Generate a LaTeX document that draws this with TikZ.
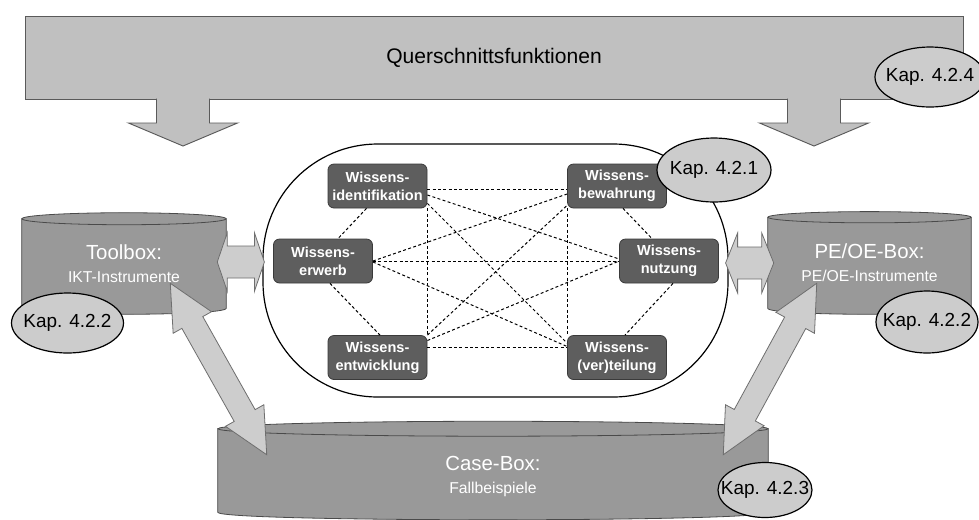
\documentclass[tikz,border=0pt]{standalone}
\usepackage{fontspec}
\setmainfont{Liberation Sans}
\usetikzlibrary{calc,shapes.geometric}
\pgfdeclarelayer{bg}
\pgfsetlayers{bg,main}

\definecolor{barfill}{HTML}{C0C0C0}
\definecolor{barline}{HTML}{5A5A5A}
\definecolor{cylfill}{HTML}{999999}
\definecolor{cylline}{HTML}{4A4A4A}
\definecolor{arrfill}{HTML}{CDCDCD}
\definecolor{arrline}{HTML}{6E6E6E}
\definecolor{kapfill}{HTML}{CCCCCC}
\definecolor{boxfill}{HTML}{5E5E5E}
\definecolor{boxline}{HTML}{3A3A3A}

\newcommand\boxtitlefont{\fontsize{15.3}{17.25}\selectfont}

% fat double-headed block arrow between two coordinates
% #1 start, #2 end, #3 head length, #4 head half width, #5 shaft half width
\newcommand\blockdbl[5]{%
  \coordinate (bdA) at ($(#1)!#3!(#2)$);
  \coordinate (bdB) at ($(#2)!#3!(#1)$);
  \draw[blockarrow] (#1) -- ($(bdA)!#4!90:(#2)$) -- ($(bdA)!#5!90:(#2)$)
    -- ($(bdB)!#5!-90:(#1)$) -- ($(bdB)!#4!-90:(#1)$) -- (#2)
    -- ($(bdB)!#4!90:(#1)$) -- ($(bdB)!#5!90:(#1)$)
    -- ($(bdA)!#5!-90:(#2)$) -- ($(bdA)!#4!-90:(#2)$) -- cycle;}

% downward block arrow hanging from the top bar, #1 = tip
\newcommand\droparrow[1]{%
  \fill[barfill] ($(#1)+(-26.5,-48)$) -- ($(#1)+(-26.5,-23)$) -- ($(#1)+(-54.5,-23)$)
    -- (#1) -- ($(#1)+(54.5,-23)$) -- ($(#1)+(26.5,-23)$) -- ($(#1)+(26.5,-48)$) -- cycle;
  \draw[barline, line width=0.7pt, line join=miter] ($(#1)+(-26.5,-47.5)$) -- ($(#1)+(-26.5,-23)$)
    -- ($(#1)+(-54.5,-23)$) -- (#1) -- ($(#1)+(54.5,-23)$) -- ($(#1)+(26.5,-23)$)
    -- ($(#1)+(26.5,-47.5)$);}

% cylinder drawn behind a node: #1 node, #2 half width, #3 lid half height,
% #4 lift of the bottom above the node's south side, #5 bulge of the bottom
\newcommand\drawcyl[5]{%
  \begin{pgfonlayer}{bg}
    \draw[cylbody] (#1.north west) -- ($(#1.south west)+(0,-#4)$)
      .. controls ($(#1.south west)+(0,-#4+#5)$) and ($(#1.south east)+(0,-#4+#5)$)
      .. ($(#1.south east)+(0,-#4)$) -- (#1.north east) -- cycle;
    \draw[cylbody] (#1.north) ellipse [x radius=#2, y radius=#3];
  \end{pgfonlayer}}

\begin{document}
\begin{tikzpicture}[x=0.75pt,y=-0.75pt,
  phase/.style={rectangle, rounded corners=4.5pt, fill=boxfill, draw=boxline,
    line width=0.6pt, text=white, align=center, inner sep=0pt,
    font=\bfseries\fontsize{10.9}{13.5}\selectfont,
    minimum width=74.25pt, minimum height=33pt},
  kap/.style={ellipse, fill=kapfill, draw=black, line width=0.9pt, inner sep=0pt,
    font=\fontsize{14.2}{16}\selectfont},
  blockarrow/.style={fill=arrfill, draw=arrline, line width=0.6pt, line join=miter},
  link/.style={draw=black, line width=0.75pt, dash pattern=on 2.2pt off 1.8pt},
  cylbody/.style={fill=cylfill, draw=cylline, line width=0.6pt},
  cyltext/.style={rectangle, inner sep=0pt, text=white, align=center,
    font=\fontsize{11.8}{17.25}\selectfont}]

\begin{pgfonlayer}{bg}
  \fill[white] (0,0) rectangle (979,519);
\end{pgfonlayer}
\useasboundingbox (0,0) rectangle (979,519);

% cross-sectional functions bar with its two drop arrows
\node[rectangle, fill=barfill, draw=barline, line width=0.7pt,
  minimum width=703.5pt, minimum height=62.25pt, inner sep=0pt,
  font=\fontsize{15.8}{18}\selectfont] (bar) at (494,57.5) {Querschnittsfunktionen};
\coordinate (qL) at (183,146);
\coordinate (qR) at (814,146);
\droparrow{qL}
\droparrow{qR}

% the three cylinder boxes (text nodes, bodies drawn behind)
\node[cyltext, minimum width=153pt, minimum height=66.75pt] (toolbox) at (124,263.5)
  {{\boxtitlefont Toolbox:}\\IKT-Instrumente};
\drawcyl{toolbox}{76.5pt}{4.5pt}{0}{8}
\node[cyltext, minimum width=152.25pt, minimum height=67.9pt] (peoe) at (869.5,262.75)
  {{\boxtitlefont PE/OE-Box:}\\PE/OE-Instrumente};
\drawcyl{peoe}{76.1pt}{4.2pt}{0}{8}
\node[cyltext, minimum width=412.5pt, minimum height=71.25pt] (casebox) at (493,476.5)
  {{\boxtitlefont Case-Box:}\\Fallbeispiele};
\drawcyl{casebox}{206.25pt}{5.6pt}{12}{10}

% knowledge management cycle
\node[rectangle, draw=black, line width=0.9pt, fill=white, rounded corners=86pt,
  minimum width=348.75pt, minimum height=189.75pt, inner sep=0pt] (cycle) at (495.5,270.5) {};

\node[phase] (ident)  at (377.5,186)   {Wissens-\\identifikation};
\node[phase] (bew)    at (617,186)     {Wissens-\\bewahrung};
\node[phase] (erwerb) at (323,261)     {Wissens-\\erwerb};
\node[phase] (nutz)   at (669,261)     {Wissens-\\nutzung};
\node[phase] (entw)   at (377.5,357.5) {Wissens-\\entwicklung};
\node[phase] (vert)   at (617,357.5)   {Wissens-\\(ver)teilung};

% every phase linked with every other one
\draw[link] ($(ident.east)+(0,3)$) -- ($(bew.west)+(0,3)$);
\draw[link] ($(ident.east)+(0,9)$) -- ($(nutz.west)+(0,-2)$);
\draw[link] ($(ident.south east)+(0,-5)$) -- ($(vert.north west)+(0,8)$);
\draw[link] (ident.south east) -- (entw.north east);
\draw[link] ($(ident.south)+(-11,0)$) -- ($(erwerb.north)+(15,0)$);
\draw[link] (erwerb.east) -- ($(bew.west)+(0,8)$);
\draw[link] (erwerb.east) -- (nutz.west);
\draw[link] ($(erwerb.east)+(0,1)$) -- ($(vert.west)+(0,-11)$);
\draw[link] ($(erwerb.south)+(7,0)$) -- ($(entw.north)+(2.5,0)$);
\draw[link] (entw.north east) -- ($(bew.south west)+(0,-3)$);
\draw[link] ($(entw.east)+(0,-17)$) -- (nutz.west);
\draw[link] ($(entw.east)+(0,-10)$) -- ($(vert.west)+(0,-10)$);
\draw[link] ($(bew.south)+(6,0)$) -- ($(nutz.north)+(-17,0)$);
\draw[link] (bew.south west) -- (vert.north west);
\draw[link] ($(nutz.south)+(4,0)$) -- ($(vert.north)+(8,0)$);

% block arrows between the boxes and the cycle
\coordinate (hl1) at ($(toolbox.east)+(-9,-1.5)$);
\coordinate (hl2) at ($(cycle.west)+(2,-8.5)$);
\coordinate (hr1) at ($(cycle.east)+(-3,-7.5)$);
\coordinate (hr2) at ($(peoe.west)+(6,0.25)$);
\blockdbl{hl1}{hl2}{7.5pt}{22pt}{12pt}
\blockdbl{hr1}{hr2}{9pt}{22.5pt}{12pt}

\coordinate (dl1) at ($(toolbox.south east)+(-56,-25)$);
\coordinate (dl2) at ($(casebox.north west)+(49,26)$);
\coordinate (dr1) at ($(peoe.south west)+(49,-25)$);
\coordinate (dr2) at ($(casebox.north east)+(-45,26)$);
\blockdbl{dl1}{dl2}{33.75pt}{16.5pt}{9pt}
\blockdbl{dr1}{dr2}{33.75pt}{16.5pt}{9pt}

% chapter references
\node[kap, minimum width=82.5pt, minimum height=45pt] (k424) at (930,77) {\makebox[0pt]{Kap. 4.2.4}};
\node[kap, minimum width=85.5pt, minimum height=48pt] (k421) at (714,170) {\makebox[0pt]{Kap. 4.2.1}};
\node[kap, minimum width=84pt, minimum height=45pt] (k422a) at (67.5,323) {\makebox[0pt]{Kap. 4.2.2}};
\node[kap, minimum width=76.5pt, minimum height=46.5pt] (k422b) at (927,322) {\makebox[0pt]{Kap. 4.2.2}};
\node[kap, minimum width=70.5pt, minimum height=41.25pt] (k423) at (765,490) {\makebox[0pt]{Kap. 4.2.3}};

\end{tikzpicture}
\end{document}
